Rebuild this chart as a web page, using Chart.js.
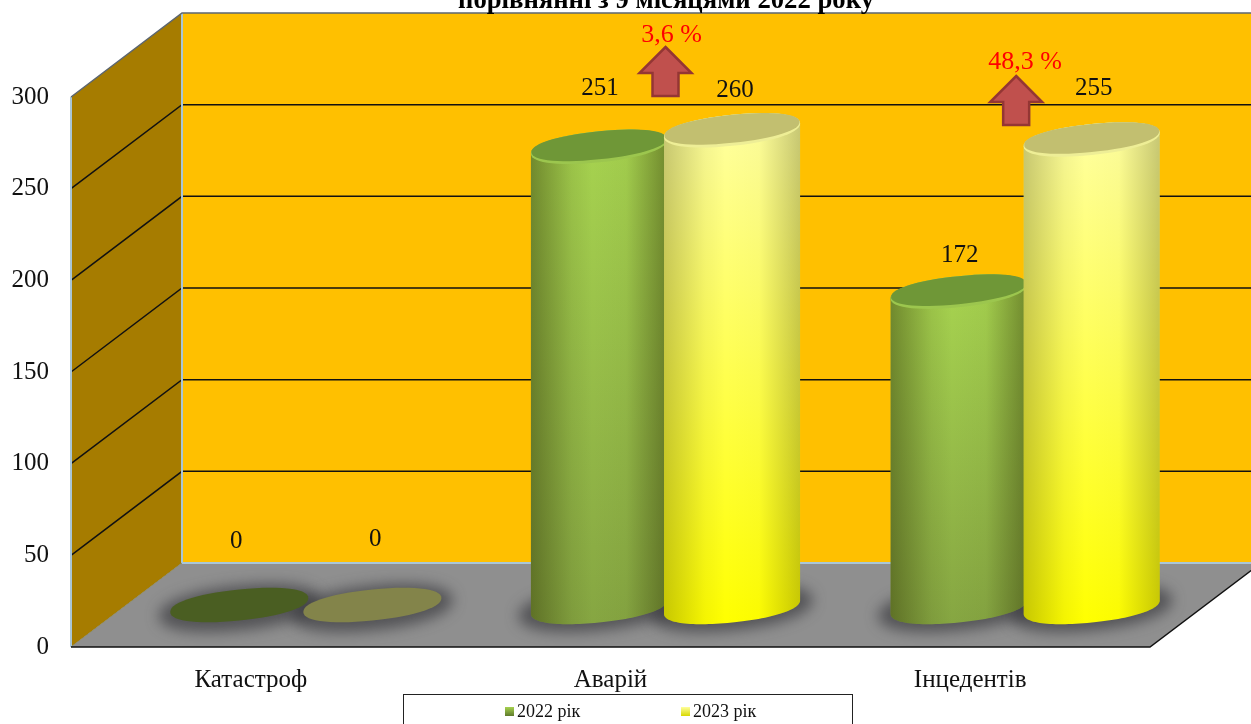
<!DOCTYPE html>
<html>
<head>
<meta charset="utf-8">
<style>
  html, body { margin: 0; padding: 0; background: #fff; overflow: hidden; }
  canvas { display: block; }
</style>
<script src="https://cdn.jsdelivr.net/npm/chart.js@4/dist/chart.umd.min.js"></script>
</head>
<body>
<canvas id="chart" width="1251" height="724"></canvas>
<script>
// Data
const categories = ['Катастроф', 'Аварій', 'Інцедентів'];
const series2022 = [0, 251, 172];
const series2023 = [0, 260, 255];
const seriesNames = ['2022 рік', '2023 рік'];
const yTicks = [0, 50, 100, 150, 200, 250, 300];
const titleText = 'порівнянні з 9 місяцями 2022 року';
const changeLabels = [null, '3,6 %', '48,3 %'];

// Look of the fake 3D box
const FONT = '"Liberation Serif", "Times New Roman", serif';
const wallDepth = { x: 111, y: -84 };
const barDepth = { x: 55, y: -40 };
const skew = -0.1;
const capRy = 15.5;

const looks = [
    { top: '#a6d24f', bottom: '#86a642', cap: '#6f9737', rim: '#9cc64e', flat: '#4a5e22', shade: 0.42 },
    { top: '#ffff9c', bottom: '#ffff00', cap: '#c2bf70', rim: '#eeee96', flat: '#83844a', shade: 0.26 }
];

// small manual offsets for value labels, [dataset][category], from the cylinder top
const labelOffsets = [
    [[-3, -66], [1, -58], [1, -36]],
    [[3, -68], [3, -40], [2, -51]]
];
// arrows, offset from the category centre and pixel position of the tip
const arrows = [
    null,
    { dx: 55, tip: 47, textDx: 6, textY: 35 },
    { dx: 46, tip: 76, textDx: 9, textY: 62 }
];

// rounded, sheared ellipse of a cylinder end; start and end are angles in radians
function capPath(ctx, cx, cy, a, b, start, end) {
    for (let i = 0; i <= 60; i++) {
        const t = start + (end - start) * i / 60;
        const c = Math.cos(t), s = Math.sin(t);
        const px = a * Math.sign(c) * Math.pow(Math.abs(c), 0.92);
        const py = b * Math.sign(s) * Math.pow(Math.abs(s), 0.92);
        ctx.lineTo(cx + px, cy + py + px * skew);
    }
}

function fillCap(ctx, cx, cy, a, b) {
    ctx.beginPath();
    capPath(ctx, cx, cy, a, b, 0, 2 * Math.PI);
    ctx.closePath();
    ctx.fill();
}

const boxPlugin = {
    id: 'box',
    beforeDatasetsDraw(chart) {
        const ctx = chart.ctx, y = chart.scales.y, a = chart.chartArea;
        const L = a.left, R = a.right, B = a.bottom, T = a.top;
        const dx = wallDepth.x, dy = wallDepth.y;
        ctx.save();
        // back wall
        ctx.fillStyle = '#ffc000';
        ctx.fillRect(L + dx, T + dy, R - L, B - T);
        // left wall
        ctx.fillStyle = '#a67c00';
        ctx.beginPath();
        ctx.moveTo(L, B); ctx.lineTo(L, T); ctx.lineTo(L + dx, T + dy); ctx.lineTo(L + dx, B + dy);
        ctx.closePath(); ctx.fill();
        // floor
        ctx.fillStyle = '#8f8f8f';
        ctx.beginPath();
        ctx.moveTo(L, B); ctx.lineTo(R, B); ctx.lineTo(R + dx, B + dy); ctx.lineTo(L + dx, B + dy);
        ctx.closePath(); ctx.fill();

        // gridlines round the two walls
        ctx.lineWidth = 1.5;
        ctx.strokeStyle = '#111';
        yTicks.forEach(v => {
            if (v === 0 || v === 300) return;
            const py = y.getPixelForValue(v);
            ctx.beginPath();
            ctx.moveTo(L, py); ctx.lineTo(L + dx, py + dy); ctx.lineTo(R + dx, py + dy);
            ctx.stroke();
        });
        // pale edges of the box
        ctx.strokeStyle = '#a9c6d8';
        ctx.lineWidth = 2;
        ctx.beginPath();
        ctx.moveTo(L, T); ctx.lineTo(L, B);
        ctx.moveTo(L + dx, T + dy); ctx.lineTo(L + dx, B + dy); ctx.lineTo(R + dx, B + dy);
        ctx.stroke();
        ctx.strokeStyle = '#5c6670';
        ctx.lineWidth = 1.5;
        ctx.beginPath();
        ctx.moveTo(L, T); ctx.lineTo(L + dx, T + dy); ctx.lineTo(R + dx, T + dy);
        ctx.stroke();
        ctx.strokeStyle = '#8a8a70';
        ctx.lineWidth = 1;
        ctx.beginPath();
        ctx.moveTo(L, B); ctx.lineTo(L + dx, B + dy);
        ctx.stroke();
        ctx.strokeStyle = '#111';
        ctx.lineWidth = 1.5;
        ctx.beginPath();
        ctx.moveTo(L, B); ctx.lineTo(R, B); ctx.lineTo(R + dx, B + dy);
        ctx.stroke();
        ctx.restore();
    },
    afterDatasetsDraw(chart) {
        const ctx = chart.ctx;
        const metas = [chart.getDatasetMeta(0), chart.getDatasetMeta(1)];

        // soft shadows on the floor first
        ctx.save();
        ctx.filter = 'blur(7px)';
        ctx.fillStyle = 'rgba(45,45,50,0.6)';
        metas.forEach(meta => meta.data.forEach(bar => {
            fillCap(ctx, bar.x + barDepth.x, bar.base + barDepth.y + 1, bar.width / 2 + 14, capRy + 7);
        }));
        ctx.restore();

        // cylinders
        metas.forEach((meta, i) => meta.data.forEach(bar => {
            const cx = bar.x + barDepth.x;
            const topY = bar.y + barDepth.y, baseY = bar.base + barDepth.y;
            const rx = bar.width / 2 + 1.5, look = looks[i];
            ctx.save();
            if (baseY - topY < 1) {
                ctx.fillStyle = look.flat;
                fillCap(ctx, cx, baseY - 2, rx + 1, capRy);
                ctx.restore();
                return;
            }
            ctx.beginPath();
            capPath(ctx, cx, topY, rx, capRy, Math.PI, 2 * Math.PI);
            capPath(ctx, cx, baseY, rx, capRy, 0, Math.PI);
            ctx.closePath();
            ctx.save();
            ctx.clip();
            const x0 = cx - rx - 2, y0 = topY - capRy - 12, w = 2 * rx + 4, h = baseY - topY + 2 * capRy + 24;
            const body = ctx.createLinearGradient(0, topY, 0, baseY + capRy);
            body.addColorStop(0, look.top);
            body.addColorStop(1, look.bottom);
            ctx.fillStyle = body;
            ctx.fillRect(x0, y0, w, h);
            const rgba = al => 'rgba(40,40,0,' + al + ')';
            const shade = ctx.createLinearGradient(cx - rx, 0, cx + rx, 0);
            shade.addColorStop(0, rgba(look.shade));
            shade.addColorStop(0.3, rgba(look.shade * 0.2));
            shade.addColorStop(0.45, rgba(0));
            shade.addColorStop(0.7, rgba(look.shade * 0.08));
            shade.addColorStop(1, rgba(look.shade));
            ctx.fillStyle = shade;
            ctx.fillRect(x0, y0, w, h);
            ctx.restore();
            // rim and cap
            ctx.fillStyle = look.rim;
            fillCap(ctx, cx, topY, rx, capRy);
            ctx.fillStyle = look.cap;
            fillCap(ctx, cx, topY - 1.5, rx - 0.5, capRy - 1.5);
            ctx.restore();
        }));

        // value labels
        ctx.save();
        ctx.font = '25px ' + FONT;
        ctx.fillStyle = '#111';
        ctx.textAlign = 'center';
        ctx.textBaseline = 'middle';
        metas.forEach((meta, i) => meta.data.forEach((bar, j) => {
            const off = labelOffsets[i][j];
            const value = chart.data.datasets[i].data[j];
            ctx.fillText(value, bar.x + barDepth.x + off[0], bar.y + barDepth.y + off[1]);
        }));
        ctx.restore();

        // change arrows with percent text
        const x = chart.scales.x;
        changeLabels.forEach((label, j) => {
            if (!label) return;
            const ar = arrows[j], ax = x.getPixelForValue(j) + ar.dx, t = ar.tip;
            ctx.save();
            ctx.fillStyle = '#c0504d';
            ctx.strokeStyle = '#943634';
            ctx.lineWidth = 2.5;
            ctx.beginPath();
            ctx.moveTo(ax, t);
            ctx.lineTo(ax + 26, t + 26);
            ctx.lineTo(ax + 13, t + 26);
            ctx.lineTo(ax + 13, t + 49);
            ctx.lineTo(ax - 13, t + 49);
            ctx.lineTo(ax - 13, t + 26);
            ctx.lineTo(ax - 26, t + 26);
            ctx.closePath();
            ctx.fill();
            ctx.stroke();
            ctx.font = '26px ' + FONT;
            ctx.fillStyle = '#ff0000';
            ctx.textAlign = 'center';
            ctx.textBaseline = 'middle';
            ctx.fillText(label, ax + ar.textDx, ar.textY);
            ctx.restore();
        });

        // cut-off title line at the very top
        ctx.save();
        ctx.font = 'bold 26.7px ' + FONT;
        ctx.fillStyle = '#000';
        ctx.textAlign = 'center';
        ctx.textBaseline = 'alphabetic';
        ctx.fillText(titleText, 666, 8);
        ctx.restore();

        // legend box
        ctx.save();
        ctx.strokeStyle = '#222';
        ctx.lineWidth = 1;
        ctx.strokeRect(403.5, 694.5, 449, 40);
        ctx.font = '18px ' + FONT;
        ctx.textBaseline = 'middle';
        ctx.textAlign = 'left';
        [505, 681].forEach((sx, i) => {
            const sw = ctx.createLinearGradient(0, 707, 0, 716);
            sw.addColorStop(0, i ? '#ffff9c' : '#a6d24f');
            sw.addColorStop(1, i ? '#d8d800' : '#5f7a2c');
            ctx.fillStyle = sw;
            ctx.fillRect(sx, 707, 9, 9);
            ctx.fillStyle = '#111';
            ctx.fillText(seriesNames[i], sx + 12, 712);
        });
        ctx.restore();
    }
};

new Chart(document.getElementById('chart').getContext('2d'), {
    type: 'bar',
    data: {
        labels: categories,
        datasets: [
            { label: seriesNames[0], data: series2022, backgroundColor: 'transparent' },
            { label: seriesNames[1], data: series2023, backgroundColor: 'transparent' }
        ]
    },
    options: {
        responsive: false,
        animation: false,
        categoryPercentage: 0.74,
        barPercentage: 1,
        layout: { padding: { top: 97, right: 101, bottom: 0, left: 0 } },
        plugins: {
            legend: { display: false },
            title: { display: false },
            tooltip: { enabled: false }
        },
        scales: {
            x: {
                grid: { display: false },
                border: { display: false },
                ticks: { color: '#111', padding: 10, maxRotation: 0, font: { family: FONT, size: 25 } },
                afterFit(scale) { scale.height = 77; }
            },
            y: {
                min: 0,
                max: 300,
                grid: { display: false },
                border: { display: false },
                ticks: { stepSize: 50, color: '#111', padding: 14, font: { family: FONT, size: 25 } },
                afterFit(scale) { scale.width = 71; }
            }
        }
    },
    plugins: [boxPlugin]
});
</script>
</body>
</html>
